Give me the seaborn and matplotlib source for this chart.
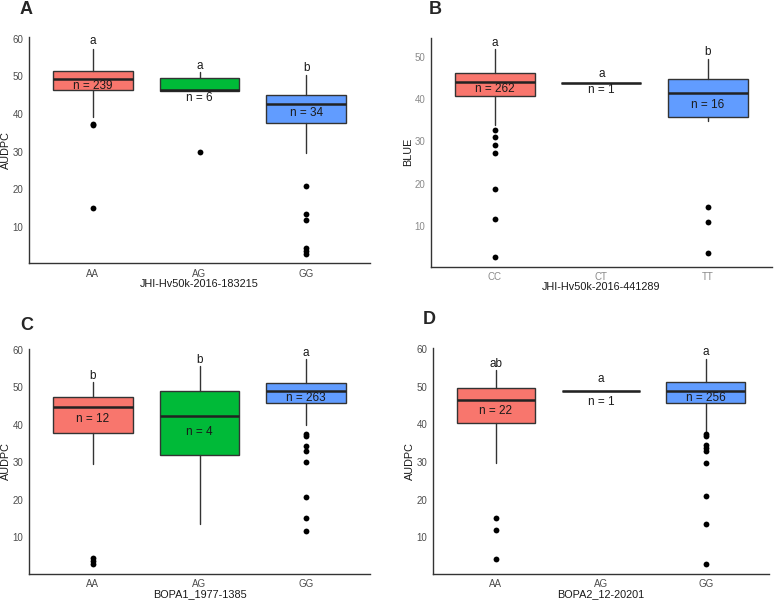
import matplotlib
matplotlib.use("Agg")
import matplotlib.pyplot as plt
import seaborn as sns
import pandas as pd

# ---- data (box summary stats) ----
# panel A
a_groups = ["AA", "AG", "GG"]
a_q1 = [46.4, 46.2, 37.5]
a_med = [49.3, 46.4, 42.6]
a_q3 = [51.5, 49.4, 45.0]
a_lo = [39.3, 46.2, 29.6]
a_hi = [57.3, 51.0, 50.4]
a_out = [[37.4, 37.0, 15.1], [29.8], [20.9, 13.5, 11.8, 4.3, 3.7, 2.8]]
a_n = ["n = 239", "n = 6", "n = 34"]
a_n_y = [47.5, 44.2, 40.2]
a_sig = ["a", "a", "b"]
a_sig_y = [59.3, 52.6, 52.2]

# panel B
b_groups = ["CC", "CT", "TT"]
b_q1 = [40.8, 43.9, 35.7]
b_med = [44.0, 43.9, 41.5]
b_q3 = [46.2, 43.9, 44.8]
b_lo = [33.8, 43.9, 34.8]
b_hi = [51.8, 43.9, 49.6]
b_out = [[32.6, 31.1, 29.2, 27.3, 18.7, 11.7, 2.6], [], [14.5, 10.9, 3.6]]
b_n = ["n = 262", "n = 1", "n = 16"]
b_n_y = [42.4, 42.1, 38.6]
b_sig = ["a", "a", "b"]
b_sig_y = [53.2, 45.9, 51.2]

# panel C
c_groups = ["AA", "AG", "GG"]
c_q1 = [37.7, 31.9, 45.7]
c_med = [44.8, 42.3, 48.9]
c_q3 = [47.3, 49.1, 51.1]
c_lo = [29.6, 13.5, 39.8]
c_hi = [51.5, 55.7, 57.5]
c_out = [[4.3, 3.6, 2.8], [], [37.4, 36.9, 34.3, 33.0, 29.9, 20.7, 15.1, 11.7]]
c_n = ["n = 12", "n = 4", "n = 263"]
c_n_y = [41.4, 38.0, 47.1]
c_sig = ["b", "b", "a"]
c_sig_y = [52.9, 57.3, 59.0]

# panel D
d_groups = ["AA", "AG", "GG"]
d_q1 = [40.4, 48.9, 45.7]
d_med = [46.4, 48.9, 48.9]
d_q3 = [49.7, 48.9, 51.2]
d_lo = [29.7, 48.9, 37.7]
d_hi = [54.5, 48.9, 57.4]
d_out = [[15.1, 11.8, 4.1], [], [37.3, 36.9, 34.4, 33.8, 32.8, 29.8, 20.9, 13.5, 2.9]]
d_n = ["n = 22", "n = 1", "n = 256"]
d_n_y = [43.5, 45.9, 47.0]
d_sig = ["ab", "a", "a"]
d_sig_y = [56.1, 51.9, 59.2]

colors = ["#F8766D", "#00BA38", "#619CFF"]

sns.set_style("white")
plt.rcParams["font.family"] = ["Liberation Sans", "DejaVu Sans"]

fig = plt.figure(figsize=(7.78, 6.02), dpi=100)

panels = [
    ("A", [0.0373, 0.563, 0.4383, 0.3755], a_groups, a_q1, a_med, a_q3, a_lo, a_hi, a_out,
     a_n, a_n_y, a_sig, a_sig_y, "JHI-Hv50k-2016-183215", "AUDPC", (0.4, 60.4), [10, 20, 30, 40, 50, 60]),
    ("B", [0.554, 0.557, 0.438, 0.380], b_groups, b_q1, b_med, b_q3, b_lo, b_hi, b_out,
     b_n, b_n_y, b_sig, b_sig_y, "JHI-Hv50k-2016-441289", "BLUE", (0.3, 54.5), [10, 20, 30, 40, 50]),
    ("C", [0.0373, 0.047, 0.4383, 0.374], c_groups, c_q1, c_med, c_q3, c_lo, c_hi, c_out,
     c_n, c_n_y, c_sig, c_sig_y, "BOPA1_1977-1385", "AUDPC", (0.2, 60.3), [10, 20, 30, 40, 50, 60]),
    ("D", [0.5566, 0.047, 0.4314, 0.3754], d_groups, d_q1, d_med, d_q3, d_lo, d_hi, d_out,
     d_n, d_n_y, d_sig, d_sig_y, "BOPA2_12-20201", "AUDPC", (0.3, 60.3), [10, 20, 30, 40, 50, 60]),
]

for (letter, rect, groups, q1, med, q3, lo, hi, outs, ns, ns_y, sig, sig_y,
     xlabel, ylabel, ylim, yticks) in panels:
    ax = fig.add_axes(rect)
    stats = []
    for i, g in enumerate(groups):
        stats.append(dict(label=g, q1=q1[i], med=med[i], q3=q3[i],
                          whislo=lo[i], whishi=hi[i], fliers=[]))
    bp = ax.bxp(stats, positions=range(len(groups)), widths=0.75,
                patch_artist=True, showfliers=False, showcaps=False,
                boxprops=dict(edgecolor="#333333", linewidth=1.0),
                whiskerprops=dict(color="#333333", linewidth=1.0),
                medianprops=dict(color="#222222", linewidth=1.8))
    for patch, col in zip(bp["boxes"], colors):
        patch.set_facecolor(col)

    # outliers through seaborn
    rows = [(g, v) for g, vals in zip(groups, outs) for v in vals]
    odf = pd.DataFrame(rows, columns=["geno", "val"])
    sns.stripplot(data=odf, x="geno", y="val", order=groups, jitter=False,
                  color="black", size=4.2, ax=ax, zorder=5)

    for i in range(len(groups)):
        ax.text(i, ns_y[i], ns[i], ha="center", va="center", fontsize=8.5, color="#1a1a1a")
        ax.text(i, sig_y[i], sig[i], ha="center", va="center", fontsize=8.5, color="#1a1a1a")

    ax.set_xlim(-0.6, 2.6)
    ax.set_ylim(*ylim)
    ax.set_xticks(range(len(groups)))
    ax.set_xticklabels(groups)
    ax.set_yticks(yticks)
    ax.set_xlabel(xlabel, fontsize=7.8, color="#1a1a1a", labelpad=0)
    ax.set_ylabel(ylabel, fontsize=7.8, color="#1a1a1a", labelpad=1)
    tick_col = "#8a8a8a" if letter == "B" else "#4d4d4d"
    ax.tick_params(axis="both", labelsize=7, colors=tick_col, length=2.5,
                   width=0.8, pad=1.5, direction="out")
    ax.tick_params(axis="both", color="#333333")
    for s in ["top", "right"]:
        ax.spines[s].set_visible(False)
    for s in ["left", "bottom"]:
        ax.spines[s].set_color("#333333")
        ax.spines[s].set_linewidth(1.0)

fig.text(20 / 778, 1 - 9 / 602, "A", fontsize=13, fontweight="bold", va="center")
fig.text(429 / 778, 1 - 9 / 602, "B", fontsize=13, fontweight="bold", va="center")
fig.text(20 / 778, 1 - 326 / 602, "C", fontsize=13, fontweight="bold", va="center")
fig.text(423 / 778, 1 - 320 / 602, "D", fontsize=13, fontweight="bold", va="center")

fig.savefig("out.png", dpi=100)
